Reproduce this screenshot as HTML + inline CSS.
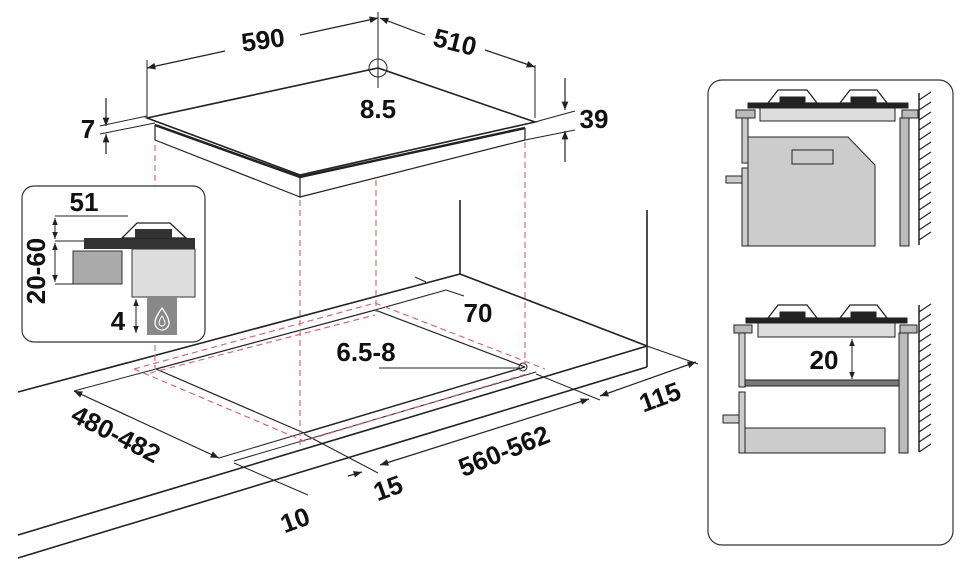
<!DOCTYPE html>
<html><head><meta charset="utf-8"><style>
html,body{margin:0;padding:0;background:#fff;}
svg{display:block;}
text{font-family:"Liberation Sans",sans-serif;font-weight:bold;fill:#111;}
</style></head><body>
<svg width="966" height="566" viewBox="0 0 966 566" xmlns="http://www.w3.org/2000/svg">
<defs>
<marker id="ar" viewBox="0 0 10 10" refX="10" refY="5" markerWidth="7" markerHeight="7" orient="auto-start-reverse"><path d="M0,1 L10,5 L0,9 z" fill="#222"/></marker>
</defs>
<g stroke="#222" fill="none" stroke-width="1.2">
<polygon points="147,118 378,68 535,122 300,175" stroke-width="1.6"/>
<polyline points="155,125 300,177 525,128" stroke-width="2.5"/>
<polyline points="155,125 155,140 300,197 300,177"/>
<line x1="300" y1="197" x2="525" y2="140"/>
<line x1="525" y1="128" x2="525" y2="140"/>
<circle cx="378" cy="68" r="9" stroke-width="1"/>
<line x1="378" y1="12" x2="378" y2="88" stroke-width="1"/>
<line x1="147" y1="60" x2="147" y2="118" stroke-width="1"/>
<line x1="535" y1="65" x2="535" y2="118" stroke-width="1"/>
<line x1="147" y1="68" x2="225" y2="51" marker-start="url(#ar)"/>
<line x1="300" y1="35" x2="378" y2="18" marker-end="url(#ar)"/>
<line x1="380" y1="18" x2="425" y2="35" marker-start="url(#ar)"/>
<line x1="485" y1="50" x2="535" y2="67" marker-end="url(#ar)"/>
<line x1="100" y1="126" x2="147" y2="116" stroke-width="1"/>
<line x1="100" y1="134" x2="155" y2="123" stroke-width="1"/>
<line x1="106" y1="98" x2="106" y2="126" marker-end="url(#ar)"/>
<line x1="106" y1="154" x2="106" y2="134" marker-end="url(#ar)"/>
<line x1="535" y1="122" x2="575" y2="111" stroke-width="1"/>
<line x1="525" y1="140" x2="575" y2="130" stroke-width="1"/>
<line x1="565" y1="78" x2="565" y2="110" marker-end="url(#ar)"/>
<line x1="565" y1="162" x2="565" y2="131" marker-end="url(#ar)"/>
<line x1="18" y1="392" x2="460" y2="274" stroke-width="1.6"/>
<line x1="460" y1="274" x2="647" y2="346" stroke-width="1.6"/>
<line x1="460" y1="200" x2="460" y2="274" stroke-width="1.6"/>
<line x1="647" y1="210" x2="647" y2="367" stroke-width="1.6"/>
<line x1="18" y1="535" x2="647" y2="346" stroke-width="1.6"/>
<line x1="18" y1="558" x2="647" y2="367" stroke-width="1.6"/>
<polyline points="156,369 375,310 525,367"/>
<line x1="156" y1="369" x2="304" y2="433"/>
<line x1="304" y1="433" x2="525" y2="367"/>
<line x1="375" y1="310" x2="446" y2="290" stroke-width="1"/>
<line x1="219" y1="458" x2="514" y2="370" stroke-width="1"/>
<line x1="234" y1="461" x2="536" y2="372" stroke-width="1"/>
<line x1="74" y1="391" x2="156" y2="369" stroke-width="1"/>
<line x1="74" y1="391" x2="219" y2="458" marker-start="url(#ar)" marker-end="url(#ar)"/>
<line x1="415" y1="277" x2="426" y2="282" stroke-width="1"/>
<line x1="446" y1="290" x2="464" y2="296" stroke-width="1"/>
<line x1="379" y1="368" x2="520" y2="368" stroke-width="1"/>
<circle cx="523" cy="367" r="4" stroke-width="1"/>
<line x1="536" y1="374" x2="600" y2="400" stroke-width="1"/>
<line x1="380" y1="465" x2="589" y2="399" marker-start="url(#ar)" marker-end="url(#ar)"/>
<line x1="304" y1="434" x2="378" y2="473" stroke-width="1"/>
<line x1="348" y1="476" x2="362" y2="472" marker-end="url(#ar)"/>
<line x1="647" y1="346" x2="698" y2="364" stroke-width="1"/>
<line x1="600" y1="396" x2="696" y2="362" marker-start="url(#ar)" marker-end="url(#ar)"/>
<line x1="234" y1="463" x2="308" y2="495" stroke-width="1"/>
</g>
<g stroke="#d06070" fill="none" stroke-width="1.1" stroke-dasharray="6,4">
<line x1="155" y1="145" x2="155" y2="370"/>
<line x1="300" y1="200" x2="300" y2="445"/>
<line x1="376" y1="180" x2="376" y2="312"/>
<line x1="525" y1="142" x2="525" y2="365"/>
<polyline points="134,369 375,303 545,369"/>
<polyline points="134,369 304,441 530,373"/>
<line x1="150" y1="373" x2="375" y2="315" />
</g>
<rect x="22" y="186" width="183" height="156" rx="12" fill="#fff" stroke="#333" stroke-width="1.2"/>
<rect x="73" y="251" width="49" height="33" fill="#aaa" stroke="#333"/>
<rect x="132" y="249" width="63" height="48" fill="#ddd" stroke="#333"/>
<rect x="147" y="297" width="30" height="38" fill="#888"/>
<path d="M162,308 c-5,7 -7,11 -7,15 a7,7 0 0 0 14,0 c0,-4 -2,-8 -7,-15z" fill="none" stroke="#fff" stroke-width="1.3"/>
<path d="M162,316 c-2,3 -3,5 -3,7 a3,3 0 0 0 6,0 c0,-2 -1,-4 -3,-7z" fill="none" stroke="#fff" stroke-width="1"/>
<rect x="84" y="238" width="111" height="11" fill="#333"/>
<polygon points="122,238 137,223 170,223 186,238" fill="#fff" stroke="#222" stroke-width="1.3"/>
<rect x="135" y="229" width="37" height="9" fill="#333"/>
<g stroke="#222" stroke-width="1" fill="none">
<line x1="55" y1="216" x2="128" y2="216"/>
<line x1="55" y1="241" x2="84" y2="241"/>
<line x1="55" y1="284" x2="73" y2="284"/>
<line x1="55" y1="218" x2="55" y2="239" marker-start="url(#ar)" marker-end="url(#ar)"/>
<line x1="55" y1="243" x2="55" y2="282" marker-start="url(#ar)" marker-end="url(#ar)"/>
<line x1="136" y1="299" x2="136" y2="333" marker-start="url(#ar)" marker-end="url(#ar)"/>
</g>
<rect x="708" y="80" width="245" height="465" rx="14" fill="#fff" stroke="#333" stroke-width="1.2"/>
<g stroke="#222" stroke-width="1">
<polygon points="748,137 848,137 875,165 875,246 748,246" fill="#ccc"/>
<rect x="792" y="150" width="41" height="14" fill="#ccc"/>
<rect x="742" y="118" width="6" height="45" fill="#ccc"/>
<rect x="742" y="168" width="6" height="78" fill="#ccc"/>
<rect x="726" y="176" width="16" height="7" fill="#ccc"/>
<rect x="900" y="118" width="9" height="128" fill="#bbb"/>
<rect x="760" y="108" width="135" height="13" fill="#ddd"/>
<rect x="736" y="110" width="19" height="8" fill="#bbb"/>
<rect x="902" y="110" width="16" height="8" fill="#bbb"/>
<rect x="748" y="103" width="160" height="5" fill="#222"/>
<polygon points="768,103 778,90 807,90 817,103" fill="#fff" stroke-width="1.3"/>
<polygon points="840,103 850,90 877,90 887,103" fill="#fff" stroke-width="1.3"/>
<rect x="780" y="97" width="25" height="6" fill="#222"/>
<rect x="851" y="97" width="25" height="6" fill="#222"/>
<line x1="919" y1="93" x2="919" y2="245" stroke-width="1.5"/>
<rect x="745" y="428" width="140" height="25" fill="#ccc"/>
<rect x="739" y="333" width="6" height="54" fill="#ccc"/>
<rect x="739" y="392" width="6" height="61" fill="#ccc"/>
<rect x="723" y="415" width="16" height="8" fill="#ccc"/>
<rect x="899" y="333" width="9" height="120" fill="#bbb"/>
<rect x="745" y="380" width="154" height="6" fill="#777"/>
<rect x="758" y="323" width="137" height="14" fill="#ddd"/>
<rect x="734" y="325" width="18" height="8" fill="#bbb"/>
<rect x="900" y="325" width="17" height="8" fill="#bbb"/>
<rect x="746" y="318" width="161" height="5" fill="#222"/>
<polygon points="768,318 778,305 807,305 817,318" fill="#fff" stroke-width="1.3"/>
<polygon points="840,318 850,305 877,305 887,318" fill="#fff" stroke-width="1.3"/>
<rect x="780" y="312" width="25" height="6" fill="#222"/>
<rect x="851" y="312" width="25" height="6" fill="#222"/>
<line x1="919" y1="305" x2="919" y2="452" stroke-width="1.5"/>
<line x1="852" y1="339" x2="852" y2="379" fill="none" marker-start="url(#ar)" marker-end="url(#ar)"/>
</g>
<path d="M919,100 l12,-8 M919,110 l12,-8 M919,120 l12,-8 M919,130 l12,-8 M919,140 l12,-8 M919,150 l12,-8 M919,160 l12,-8 M919,170 l12,-8 M919,180 l12,-8 M919,190 l12,-8 M919,200 l12,-8 M919,210 l12,-8 M919,220 l12,-8 M919,230 l12,-8 M919,240 l12,-8 M919,312 l12,-8 M919,322 l12,-8 M919,332 l12,-8 M919,342 l12,-8 M919,352 l12,-8 M919,362 l12,-8 M919,372 l12,-8 M919,382 l12,-8 M919,392 l12,-8 M919,402 l12,-8 M919,412 l12,-8 M919,422 l12,-8 M919,432 l12,-8 M919,442 l12,-8 M919,452 l12,-8" stroke="#222" stroke-width="1.2" fill="none"/>
<g font-size="26">
<text x="263" y="49" text-anchor="middle" transform="rotate(-8 263 40)">590</text>
<text x="455" y="51" text-anchor="middle" transform="rotate(14 455 42)">510</text>
<text x="378" y="118" text-anchor="middle">8.5</text>
<text x="88" y="138" text-anchor="middle">7</text>
<text x="594" y="128" text-anchor="middle">39</text>
<text x="84" y="211" text-anchor="middle">51</text>
<text x="36" y="280" text-anchor="middle" transform="rotate(-90 36 271)">20-60</text>
<text x="118" y="330" text-anchor="middle">4</text>
<text x="478" y="322" text-anchor="middle">70</text>
<text x="366" y="361" text-anchor="middle">6.5-8</text>
<text x="116" y="443" text-anchor="middle" transform="rotate(27 116 434)">480-482</text>
<text x="504" y="460" text-anchor="middle" transform="rotate(-22 504 451)">560-562</text>
<text x="660" y="406" text-anchor="middle" transform="rotate(-20 660 397)">115</text>
<text x="388" y="497" text-anchor="middle" transform="rotate(-20 388 488)">15</text>
<text x="295" y="529" text-anchor="middle" transform="rotate(-20 295 520)">10</text>
<text x="824" y="369" text-anchor="middle">20</text>
</g>
</svg>
</body></html>
